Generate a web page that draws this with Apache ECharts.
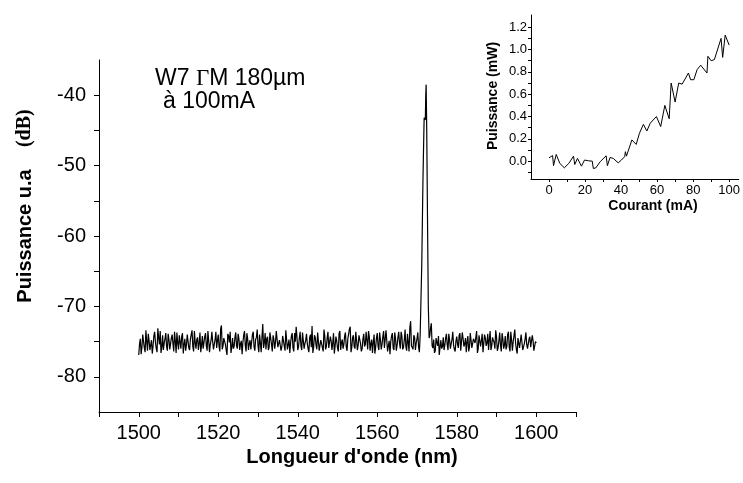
<!DOCTYPE html>
<html>
<head>
<meta charset="utf-8">
<script src="https://cdn.jsdelivr.net/npm/echarts@6/dist/echarts.min.js"></script>
<style>
  html, body { margin: 0; padding: 0; background: #fff; }
  #chart { width: 743px; height: 483px; }
</style>
</head>
<body>
<div id="chart"></div>
<script>
// spectre : bruit lu sur deux grilles décalées de 0.2 nm (pas de 0.4 nm chacune)
const wlStart = 1500;
const wlStep = 0.4;
const noiseDb = [
  -76.9, -74.6, -75.8, -74.2, -76.5, -75.0, -73.9, -76.2, -74.8, -75.6,
  -73.6, -76.0, -73.1, -75.4, -76.6, -74.1, -75.2, -73.8, -76.3, -74.7,
  -75.9, -74.0, -76.4, -74.9, -73.7, -76.1, -75.0, -74.3, -76.7, -74.6,
  -75.5, -73.9, -76.2, -74.8, -75.7, -73.5, -76.0, -74.4, -75.3, -76.5,
  -74.2, -75.8, -73.8, -76.3, -74.9, -75.4, -73.6, -76.1, -74.7, -75.9,
  -74.0, -76.4, -72.7, -75.6, -74.3, -76.2, -73.9, -75.1, -76.6, -74.5,
  -75.7, -73.7, -76.0, -74.6, -75.3, -76.8, -74.1, -75.5, -73.8, -76.2,
  -74.8, -75.9, -73.6, -76.3, -74.4, -75.6, -74.0, -76.5, -72.5, -75.2,
  -76.1, -74.3, -75.8, -73.9, -76.4, -74.7, -75.1, -73.6, -76.0, -74.9,
  -75.7, -74.1, -76.3, -73.5, -75.4, -76.6, -74.2, -75.9, -73.8, -72.9,
  -76.2, -74.5, -75.6, -73.7, -76.0, -74.8, -75.3, -76.5, -74.0, -72.8,
  -75.8, -74.4, -76.1, -73.9, -75.5, -74.6, -76.4, -74.2, -75.7, -73.6,
  -76.0, -74.9, -75.2, -76.7, -74.3, -75.9, -73.8, -76.2, -74.7, -75.4,
  -73.7, -76.3, -74.5, -72.9, -75.8, -74.1, -76.0, -74.8, -75.5, -73.9,
  -76.4, -74.6, -75.7, -73.6, -76.1, -74.3, -75.3, -76.6, -74.0, -75.8,
  -73.8, -76.2, -74.7, -75.4, -73.5, -76.0, -74.9, -75.6, -76.8, -74.2,
  -75.9, -73.7, -76.3, -74.4, -75.2, -73.6, -76.1, -74.8, -75.7, -73.9,
  -76.4, -72.1, -75.5, -74.1, -76.2, -74.6, -75.8, -76.5, -74.3, -75.0,
  -75.3, -74.7, -76.0, -74.2, -72.4, -75.9, -76.6, -74.5, -75.6, -76.9,
  -74.8, -75.7, -76.2, -74.5, -75.4, -73.9, -76.0, -74.7, -75.5, -76.4,
  -74.3, -75.9, -73.8, -76.1, -74.6, -75.3, -76.5, -74.2, -75.8, -73.6,
  -76.0, -74.9, -75.4, -76.6, -74.1, -75.7, -73.9, -76.3, -74.5, -75.2,
  -76.2, -73.5, -75.6, -74.8, -76.0, -74.3, -75.9, -73.7, -76.4, -74.6,
  -75.5, -76.1, -74.0, -75.8, -73.6, -76.3, -74.9, -75.2, -76.7, -74.4,
  -75.7, -73.8, -76.0, -74.6, -75.4, -76.2, -74.3, -75.8, -74.9, -76.1, -75.2
];
const wlStartB = 1500.2;
const noiseDbB = [
  -75.3, -76.8, -74.0, -75.9, -73.4, -76.3, -74.9, -75.5, -76.7, -74.2,
  -75.1, -76.5, -74.4, -73.5, -75.8, -76.2, -74.6, -75.7, -73.9, -76.1,
  -74.5, -75.3, -73.6, -76.6, -75.2, -74.1, -76.0, -73.8, -75.4, -76.3,
  -74.0, -75.9, -74.6, -73.4, -76.4, -75.1, -74.7, -76.2, -73.7, -75.5,
  -76.0, -74.3, -75.6, -73.5, -76.5, -74.8, -75.0, -76.3, -73.6, -74.9,
  -75.7, -73.2, -76.1, -74.5, -75.4, -76.9, -74.2, -73.6, -75.8, -76.0,
  -74.4, -75.6, -73.9, -76.2, -74.9, -75.1, -73.5, -76.4, -74.6, -75.3,
  -76.1, -74.0, -75.7, -74.7, -73.3, -76.5, -75.2, -74.3, -75.9, -73.8,
  -74.6, -76.2, -73.7, -75.4, -74.1, -76.0, -73.5, -75.8, -74.8, -76.3,
  -74.2, -75.6, -73.4, -76.1, -74.7, -75.2, -73.8, -76.4, -75.0, -74.3,
  -75.7, -73.6, -76.2, -74.9, -75.3, -73.9, -76.0, -74.4, -75.8, -76.6,
  -74.1, -75.5, -73.7, -76.3, -74.8, -75.0, -73.3, -76.1, -74.5, -75.9,
  -74.3, -76.2, -73.8, -75.6, -74.9, -76.4, -73.5, -75.1, -76.0, -74.2,
  -75.8, -74.6, -73.2, -76.5, -74.4, -75.7, -73.6, -76.2, -74.1, -75.3,
  -76.0, -73.9, -75.4, -74.8, -73.5, -76.3, -74.7, -75.1, -76.7, -74.5,
  -75.6, -73.7, -76.1, -74.3, -75.9, -73.4, -76.4, -74.9, -75.0, -73.8,
  -76.2, -74.6, -75.5, -73.6, -76.0, -74.2, -75.8, -73.3, -76.3, -74.0,
  -73.0, -75.6, -76.1, -74.4, -75.2, -73.7, -76.5, -74.8, -75.0, -74.0,
  -74.9, -76.1, -74.3, -73.1, -75.6, -74.7, -76.3, -75.1, -74.2, -75.8,
  -76.0, -74.4, -75.5, -73.9, -76.2, -74.8, -75.3, -73.6, -76.1, -74.9,
  -75.4, -74.1, -76.3, -73.7, -75.7, -74.5, -75.0, -76.4, -73.8, -75.9,
  -74.6, -75.2, -73.5, -76.0, -74.3, -75.8, -76.5, -74.0, -75.6, -73.9,
  -74.7, -76.2, -74.4, -75.1, -73.4, -76.3, -74.9, -75.5, -73.8, -76.0,
  -74.2, -75.7, -73.6, -76.4, -74.8, -75.0, -73.3, -76.1, -74.5, -75.9,
  -74.0, -76.2, -75.3, -73.7, -76.0, -74.6, -75.8, -74.1, -76.3, -75.0
];

// raie laser vers 1572 nm
const peakWl = [1570.8, 1571.2, 1571.5, 1571.75, 1571.8, 1572.1, 1572.2, 1572.3, 1572.45, 1572.65, 1572.85, 1573.05];
const peakDb = [-74.0, -64.0, -52.0, -44.5, -43.2, -43.5, -40.0, -38.5, -45.0, -58.0, -70.0, -74.5];

// graduations du spectre
const wlTicks = [1490, 1500, 1510, 1520, 1530, 1540, 1550, 1560, 1570, 1580, 1590, 1600, 1610];
const wlLabels = [1500, 1520, 1540, 1560, 1580, 1600];
const dbTicks = [-80, -75, -70, -65, -60, -55, -50, -45, -40];
const dbLabels = [-80, -70, -60, -50, -40];

// encart : puissance en fonction du courant
const currentMA = [0, 2, 2.5, 4, 6, 8.5, 11, 13.6, 14.3, 15.8, 18, 19.7, 22, 24, 24.6, 26, 28.4, 31.7, 32.4, 33.9,
  35.7, 38.4, 40.2, 42, 42.4, 43, 44, 46, 48.4, 50.2, 52.4, 54.3, 56.2, 59.6, 62, 64.3, 66.7, 67.8, 70, 72,
  73.9, 77.4, 78.6, 80.4, 82.2, 84.2, 87.7, 88.2, 90, 91.8, 95.5, 96.4, 97.8, 100];
const powerMW = [0.03, 0.05, -0.04, 0.06, -0.02, -0.06, -0.02, 0.045, -0.03, 0.025, -0.045, 0.01, 0.003, 0, -0.066, -0.06, -0.005, 0.048, -0.04, 0.033,
  0.024, -0.015, 0.01, 0.04, 0.085, 0.045, 0.04, 0.19, 0.15, 0.25, 0.33, 0.27, 0.34, 0.40, 0.31, 0.50, 0.38, 0.70, 0.53, 0.70,
  0.69, 0.79, 0.73, 0.73, 0.82, 0.86, 0.79, 0.94, 0.90, 0.91, 1.10, 0.93, 1.13, 1.04];
const maTicks = [0, 10, 20, 30, 40, 50, 60, 70, 80, 90, 100];
const maLabels = [0, 20, 40, 60, 80, 100];
const mwTicks = [-0.1, 0, 0.1, 0.2, 0.3, 0.4, 0.5, 0.6, 0.7, 0.8, 0.9, 1.0, 1.1, 1.2];
const mwLabels = [0, 0.2, 0.4, 0.6, 0.8, 1.0, 1.2];

// on remplace le bruit par la raie dans la zone du pic
const spectrum = [];
const inPeak = wl => wl >= peakWl[0] && wl <= peakWl[peakWl.length - 1];
noiseDb.forEach((v, i) => {
  const wl = +(wlStart + i * wlStep).toFixed(2);
  if (!inPeak(wl)) spectrum.push([wl, v]);
});
noiseDbB.forEach((v, i) => {
  const wl = +(wlStartB + i * wlStep).toFixed(2);
  if (!inPeak(wl)) spectrum.push([wl, v]);
});
peakWl.forEach((wl, i) => spectrum.push([wl, peakDb[i]]));
spectrum.sort((a, b) => a[0] - b[0]);

const inset = currentMA.map((c, i) => [c, powerMW[i]]);

const black = "#000";
const sans = "'Liberation Sans', Arial, sans-serif";
const serif = "'Liberation Serif', 'Times New Roman', serif";

const axisCommon = (fontSize, margin, tickLen) => ({
  axisLine: { show: true, onZero: false, lineStyle: { color: black, width: 1 } },
  axisTick: { show: true, inside: false, length: tickLen, lineStyle: { color: black, width: 1 } },
  axisLabel: { color: black, fontFamily: sans, fontSize: fontSize, margin: margin, formatter: v => String(v) },
  splitLine: { show: false }
});

const chart = echarts.init(document.getElementById("chart"));

const option = {
  animation: false,
  backgroundColor: "#fff",
  grid: [
    { left: 99, top: 60, width: 477, height: 352 },
    { left: 531, top: 15, width: 212, height: 164 }
  ],
  xAxis: [
    (() => {
      const a = axisCommon(20, 11, 5);
      a.axisTick.customValues = wlTicks;
      a.axisLabel.customValues = wlLabels;
      return Object.assign({ type: "value", gridIndex: 0, min: 1490, max: 1610 }, a);
    })(),
    (() => {
      const a = axisCommon(13, 5, 3);
      a.axisTick.customValues = maTicks;
      a.axisLabel.customValues = maLabels;
      return Object.assign({ type: "value", gridIndex: 1, min: -10, max: 105.3 }, a);
    })()
  ],
  yAxis: [
    (() => {
      const a = axisCommon(20, 13, 5);
      a.axisTick.customValues = dbTicks;
      a.axisLabel.customValues = dbLabels;
      return Object.assign({ type: "value", gridIndex: 0, min: -85, max: -35 }, a);
    })(),
    (() => {
      const a = axisCommon(13, 4, 3);
      a.axisTick.customValues = mwTicks;
      a.axisLabel.customValues = mwLabels;
      a.axisLabel.formatter = v => v.toFixed(1);
      return Object.assign({ type: "value", gridIndex: 1, min: -0.16, max: 1.31 }, a);
    })()
  ],
  series: [
    {
      type: "line",
      xAxisIndex: 0,
      yAxisIndex: 0,
      data: spectrum,
      showSymbol: false,
      sampling: "none",
      lineStyle: { color: black, width: 1.2 }
    },
    {
      type: "line",
      xAxisIndex: 1,
      yAxisIndex: 1,
      data: inset,
      showSymbol: false,
      lineStyle: { color: black, width: 1 }
    }
  ],
  graphic: [
    {
      type: "text",
      x: 155, y: 79,
      style: {
        text: "{s|W7 }{g|Γ}{s|M 180µm}",
        verticalAlign: "middle",
        rich: {
          s: { fontFamily: sans, fontSize: 23, fill: black },
          g: { fontFamily: serif, fontSize: 23, fill: black }
        }
      }
    },
    {
      type: "text",
      x: 163, y: 102,
      style: { text: "à 100mA", font: "23px " + sans, fill: black, verticalAlign: "middle" }
    },
    {
      type: "text",
      x: 25, y: 206,
      rotation: Math.PI / 2,
      style: {
        text: "{a|Puissance u.a    }{b|(dB)}",
        align: "center",
        verticalAlign: "middle",
        rich: {
          a: { fontFamily: sans, fontWeight: "bold", fontSize: 20, fill: black },
          b: { fontFamily: serif, fontWeight: "bold", fontSize: 20, fill: black }
        }
      }
    },
    {
      type: "text",
      x: 352, y: 457,
      style: { text: "Longueur d'onde (nm)", font: "bold 20px " + sans, fill: black, align: "center", verticalAlign: "middle" }
    },
    {
      type: "text",
      x: 493, y: 96,
      rotation: Math.PI / 2,
      style: { text: "Puissance (mW)", font: "bold 14px " + sans, fill: black, align: "center", verticalAlign: "middle" }
    },
    {
      type: "text",
      x: 653, y: 206,
      style: { text: "Courant (mA)", font: "bold 14px " + sans, fill: black, align: "center", verticalAlign: "middle" }
    }
  ]
};

chart.setOption(option);
</script>
</body>
</html>
